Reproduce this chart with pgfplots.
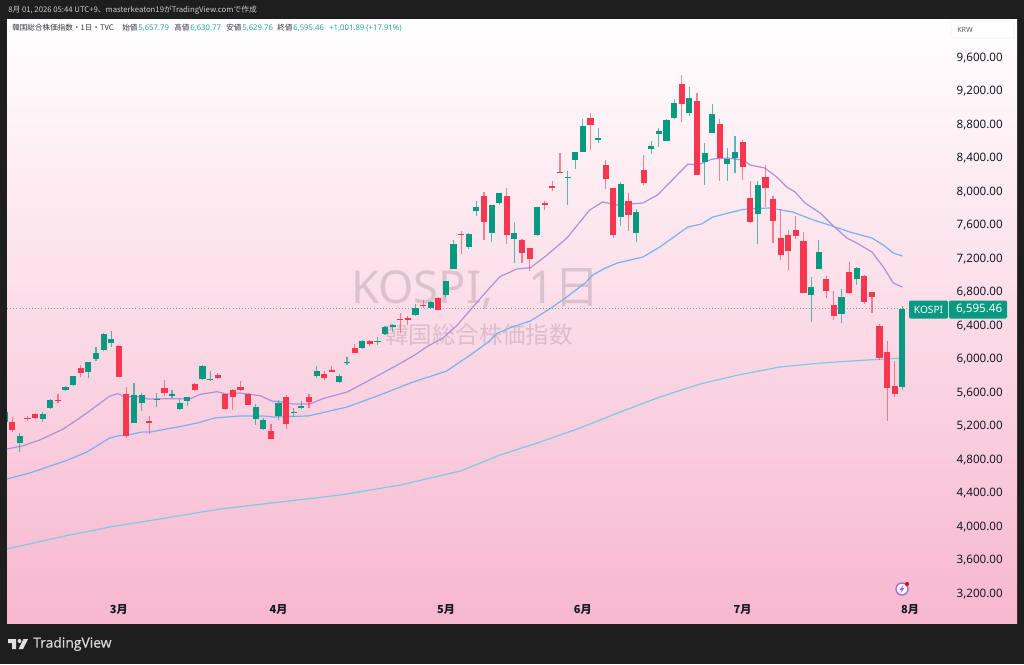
\documentclass[border=0pt]{standalone}
\usepackage{pgfplots}
\usepackage{pgfplotstable}
\usepackage{fontspec}
\pgfplotsset{compat=1.18}
\setmainfont{Noto Sans}
\newfontfamily\cjk{Noto Sans CJK JP}
\newfontfamily\tvfont[FakeBold=0.6]{Open Sans}
\definecolor{frame}{HTML}{1E1E1E}
\definecolor{upc}{HTML}{089981}
\definecolor{dnc}{HTML}{F7374F}
\definecolor{ink}{HTML}{131722}
\definecolor{ma20}{HTML}{AE92D8}
\definecolor{ma50}{HTML}{7CB0F0}
\definecolor{ma200}{HTML}{7CCAE4}
\definecolor{lg}{HTML}{26A69A}
\definecolor{panebot}{HTML}{F7B7CF}
\definecolor{iconc}{HTML}{9C6ADE}
\pgfplotstableread{
i o h l c
-1 5242 5385 5218 5361
1 4995 5114 4887 5078
4 5274 5365 5245 5337
5 5409 5513 5394 5505
7 5620 5672 5608 5663
8 5680 5795 5672 5791
10 5835 5962 5764 5958
11 5998 6137 5974 6069
12 6105 6301 6093 6293
13 6185 6332 6141 6229
16 5234 5704 5234 5568
17 5472 5592 5377 5568
19 5505 5585 5417 5520
21 5552 5620 5525 5573
22 5394 5520 5385 5472
23 5496 5544 5437 5537
25 5752 5919 5747 5911
26 5743 5851 5731 5755
32 5281 5453 5210 5425
33 5158 5286 5146 5262
35 5310 5505 5266 5465
37 5353 5406 5305 5361
38 5406 5489 5394 5433
40 5788 5907 5764 5854
43 5716 5815 5711 5791
44 5955 6014 5922 5962
46 6129 6221 6114 6213
48 6197 6260 6161 6206
49 6289 6385 6284 6380
50 6373 6409 6313 6400
53 6516 6651 6511 6603
55 6607 6687 6588 6678
57 6762 6929 6731 6922
58 7072 7415 7069 7371
60 7335 7495 7311 7490
61 7765 7884 7705 7805
63 7502 7833 7395 7829
64 7857 7980 7833 7973
66 7431 7626 7137 7502
69 7471 7809 7466 7805
73 8152 8242 7833 8171
74 8367 8466 8259 8462
75 8469 8860 8466 8773
77 8613 8749 8570 8629
80 7686 8108 7586 8084
82 7495 7789 7388 7749
84 8505 8595 8442 8535
85 8681 8758 8529 8717
86 8601 8856 8593 8854
87 8868 9095 8856 9054
89 8935 9238 8896 9107
91 8343 8570 8072 8457
92 8689 9039 8689 8916
94 8319 8510 8120 8386
95 8394 8657 8211 8466
98 7725 8123 7367 8075
105 6758 6970 6440 6850
106 7065 7415 7065 7275
109 6535 6826 6424 6734
111 6949 7093 6881 7084
117 5657.79 6630.77 5629.76 6595.46
}\upcandles
\pgfplotstableread{
i o h l c
0 5238 5302 5122 5146
2 5290 5317 5257 5281
3 5337 5349 5281 5290
6 5505 5573 5465 5496
9 5887 5922 5776 5831
14 6149 6161 5776 5776
15 5576 5656 5055 5075
18 5254 5314 5095 5234
20 5648 5740 5552 5592
24 5696 5704 5616 5624
27 5799 5823 5755 5764
28 5573 5580 5389 5394
29 5624 5632 5385 5537
30 5663 5731 5616 5620
31 5576 5585 5441 5449
34 5135 5218 5036 5036
36 5537 5564 5162 5218
39 5537 5576 5413 5481
41 5815 5847 5747 5764
42 5866 5911 5839 5843
45 6125 6173 6062 6069
47 6213 6217 6153 6177
51 6472 6540 6301 6463
52 6487 6511 6400 6463
54 6639 6699 6603 6627
56 6726 6731 6579 6583
59 7490 7519 7248 7478
62 7940 7988 7415 7630
65 7940 8036 7367 7478
67 7411 7431 7137 7256
68 7316 7323 7048 7192
70 7860 7877 7770 7833
71 8060 8116 8000 8032
72 8227 8450 8211 8215
76 8868 8928 8490 8788
78 8310 8367 8027 8143
79 8036 8036 7435 7471
81 7884 7980 7526 7717
83 8251 8430 8068 8099
88 9281 9381 8824 9039
90 9075 9167 8191 8191
93 8796 8856 8120 8398
96 8585 8609 8131 8287
97 7916 8123 7614 7634
99 8171 8310 7813 8032
100 7908 7940 7383 7645
101 7439 7782 7176 7232
102 7471 7534 7057 7280
103 7534 7702 7423 7463
104 7399 7511 6779 6786
107 6949 6985 6722 6806
108 6635 6803 6463 6504
110 7037 7156 6774 6782
112 6989 6994 6647 6678
113 6791 6794 6547 6738
114 6388 6409 5986 6010
115 6078 6213 5257 5648
116 5668 5970 5537 5576
}\dncandles
\begin{document}
\begin{tikzpicture}
\fill[frame] (0,0) rectangle (768pt,-498pt);
\useasboundingbox (0,0) rectangle (768pt,-498pt);
\begin{scope}[x=0.75pt,y=-0.75pt]
\shade[top color=white,bottom color=panebot] (7,19) rectangle (1017,623);
% watermark
\node[anchor=base west,inner sep=0pt,text=ink,opacity=.14,font=\fontsize{34}{34}\selectfont] at (351,303) {KOSPI,};
\node[anchor=base east,inner sep=0pt,text=ink,opacity=.14,font=\fontsize{34}{34}\selectfont] at (600,303) {1{\cjk 日}};
\node[anchor=center,inner sep=0pt,text=ink,opacity=.14,font=\fontsize{17.6}{18}\selectfont\cjk] at (479,335) {韓国総合株価指数};
\end{scope}
\begin{axis}[
  at={(5.25pt,-467.25pt)},anchor=south west,
  width=757.5pt,height=453pt,scale only axis,
  xmin=-0.697,xmax=132.07,ymin=2842,ymax=10054,
  axis line style={draw=none},
  major tick length=0pt,
  xtick={14,35,57,75,96,118},
  xticklabels={3月,4月,5月,6月,7月,8月},
  x tick label style={anchor=center,inner sep=0pt,yshift=9.75pt,text=ink,font=\fontsize{8.3}{10}\selectfont\cjk\bfseries},
  ytick={3200,3600,...,9600},
  yticklabel pos=right,
  scaled y ticks=false,
  y tick label style={anchor=east,inner sep=0pt,xshift=-10.5pt,yshift=-.6pt,text=ink,font=\fontsize{8.7}{10}\selectfont,
    /pgf/number format/.cd,fixed,fixed zerofill,precision=2,1000 sep={,},assume math mode=true},
]
% moving averages
\addplot[ma200,line width=.9pt,forget plot] coordinates {(-0.7,3726)(6.3,3869)(12.8,3988)(19.4,4084)(27.3,4203)(35.2,4287)(43.1,4370)(51,4490)(58.9,4657)(64.1,4848)(69.4,5003)(74.6,5170)(79.9,5361)(85.1,5540)(90.4,5696)(95.7,5809)(100.9,5899)(106.2,5946)(111.4,5977)(117,6006)};
\addplot[ma50,line width=.9pt,forget plot] coordinates {(-0.7,4561)(2.3,4633)(7.3,4788)(9.8,4884)(12.8,5051)(13.9,5075)(15.2,5087)(17,5122)(18.1,5122)(22.4,5194)(24.3,5230)(26.6,5290)(29.9,5314)(33,5314)(34.3,5302)(38.9,5314)(44,5421)(48.3,5564)(52.7,5720)(57.1,5851)(59.2,5982)(60.2,6042)(62.4,6185)(63.8,6305)(65.7,6376)(68.1,6448)(70.4,6579)(72.7,6722)(75.3,6902)(76.3,6997)(77.7,7069)(79.5,7140)(82.9,7212)(85.1,7331)(86.4,7415)(88.8,7570)(90.6,7606)(92.1,7690)(95.7,7773)(97,7791)(99.6,7797)(102.6,7749)(105.3,7654)(107.8,7582)(110.1,7511)(113,7439)(114.5,7355)(115.8,7260)(117,7224)};
\addplot[ma20,line width=.9pt,forget plot] coordinates {(-0.7,4920)(1.4,4958)(3.6,5027)(6.7,5158)(9.8,5349)(12.8,5552)(13.9,5580)(14.8,5544)(16.8,5544)(17.8,5517)(20.3,5520)(23.4,5520)(24.7,5573)(26.9,5604)(28.2,5576)(29.9,5588)(32.6,5556)(34.1,5493)(35.2,5484)(36.9,5457)(39.1,5457)(40.8,5520)(44,5600)(47,5743)(50.6,5922)(52.9,6042)(54.5,6141)(56.6,6245)(58.5,6400)(60.2,6579)(62.5,6818)(64.1,6977)(66.3,7069)(68.1,7084)(70.3,7236)(72.9,7439)(75.9,7773)(77.6,7869)(79.5,7833)(82.9,7857)(84.8,7952)(86.1,8072)(88.8,8322)(90.1,8310)(92,8382)(94,8394)(96.1,8370)(97,8310)(98.9,8275)(100.5,8167)(101.8,8048)(102.9,7988)(104.2,7857)(106.2,7737)(107.8,7594)(109.7,7439)(111,7379)(113,7272)(114.5,7093)(115.8,6902)(117,6854)};
% last price line
\addplot[upc!45!gray,line width=.6pt,dash pattern=on .75pt off 1.6pt,opacity=.7,forget plot] coordinates {(-0.697,6595.46)(118,6595.46)};
% wicks
\addplot[draw=none,no marks,forget plot,error bars/.cd,y dir=plus,y explicit,error mark=none,error bar style={draw=upc,line width=.85pt,opacity=.65}] table[x=i,y=l,y error plus expr=\thisrow{h}-\thisrow{l}] {\upcandles};
\addplot[draw=none,no marks,forget plot,error bars/.cd,y dir=plus,y explicit,error mark=none,error bar style={draw=dnc,line width=.85pt,opacity=.6}] table[x=i,y=l,y error plus expr=\thisrow{h}-\thisrow{l}] {\dncandles};
% bodies
\addplot[draw=none,no marks,forget plot,error bars/.cd,y dir=plus,y explicit,error mark=none,error bar style={draw=upc,line width=4.6pt}] table[x=i,y=o,y error plus expr=\thisrow{c}-\thisrow{o}] {\upcandles};
\addplot[draw=none,no marks,forget plot,error bars/.cd,y dir=plus,y explicit,error mark=none,error bar style={draw=dnc,line width=4.6pt}] table[x=i,y=c,y error plus expr=\thisrow{o}-\thisrow{c}] {\dncandles};
\end{axis}
\begin{scope}[x=0.75pt,y=-0.75pt]
% header
\node[anchor=west,inner sep=0pt,text=black!20,font=\fontsize{5.8}{7}\selectfont\cjk] at (8,10) {8月 01, 2026 05:44 UTC+9、masterkeaton19がTradingView.comで作成};
% legend row
\tikzset{lg/.style={anchor=west,inner sep=0pt,font=\fontsize{5.7}{7}\selectfont\cjk,text=ink!85},lv/.style={anchor=west,inner sep=0pt,font=\fontsize{5.8}{7}\selectfont,text=lg}}
\node[lg] at (12,28) {韓国総合株価指数・1日・TVC};
\node[lg] at (122,28) {始値};\node[lv] at (138,28) {5,657.79};
\node[lg] at (174,28) {高値};\node[lv] at (190,28) {6,630.77};
\node[lg] at (226,28) {安値};\node[lv] at (242,28) {5,629.76};
\node[lg] at (277,28) {終値};\node[lv] at (293,28) {6,595.46};
\node[lv] at (329,28) {+1,001.89 (+17.91\%)};
% KRW box
\draw[black!6,fill=white,rounded corners=2pt,line width=.4pt] (951,21) rectangle (1014,38);
\node[anchor=west,inner sep=0pt,text=ink!70,font=\fontsize{5.4}{7}\selectfont] at (957,29.5) {KRW};
% last price tag
\fill[upc,rounded corners=1pt] (909,300.5) rectangle (948,318.5);
\fill[upc,rounded corners=1pt] (949,300.5) rectangle (1007,318.5);
\node[anchor=center,inner sep=0pt,text=white,font=\fontsize{7.6}{9}\selectfont\bfseries] at (928.5,309.5) {KOSPI};
\node[anchor=east,inner sep=0pt,text=white,font=\fontsize{8.7}{10}\selectfont] at (1002.5,309.5) {6,595.46};
% icon
\draw[iconc,fill=white,line width=1pt] (902,589) circle (6);
\fill[iconc] (903.5,584.5) -- (899.5,590) -- (901.8,590) -- (900.5,593.5) -- (904.5,588) -- (902.2,588) -- cycle;
\fill[red!85!black] (907,584) circle (2);
% logo
\fill[black!12] (8,639) -- (16,639) -- (16,649) -- (12,649) -- (12,643) -- (8,643) -- cycle;
\fill[black!12] (19.5,641) circle (2);
\fill[black!12] (23.5,639) -- (28,639) -- (23,649) -- (18.5,649) -- cycle;
\node[anchor=west,inner sep=0pt,text=black!15,font=\fontsize{10.4}{13}\selectfont\tvfont] at (33,644) {TradingView};
\end{scope}
\end{tikzpicture}
\end{document}
